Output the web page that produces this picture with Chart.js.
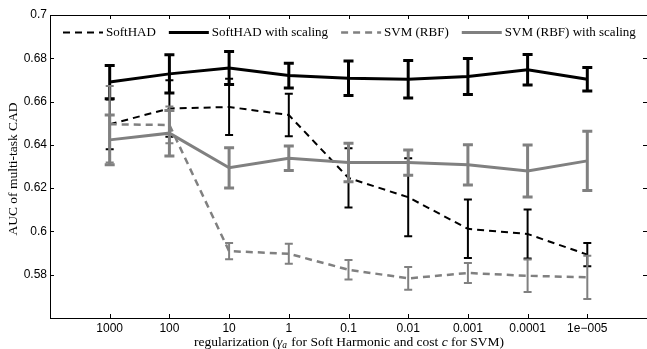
<!DOCTYPE html>
<html><head><meta charset="utf-8">
<script src="https://cdn.jsdelivr.net/npm/chart.js@4.4.0/dist/chart.umd.min.js"></script>
<style>html,body{margin:0;padding:0;background:#fff;}</style>
</head><body>
<canvas id="c" width="647" height="349"></canvas>
<script>
const categories = ['1000','100','10','1','0.1','0.01','0.001','0.0001','1e\u2212005'];
const yTicks = [0.58, 0.6, 0.62, 0.64, 0.66, 0.68, 0.7];

const softhad          = [0.6495, 0.6568, 0.6575, 0.6538, 0.6247, 0.6158, 0.6012, 0.5988, 0.5893];
const softhadErr       = [0.0115, 0.0130, 0.0130, 0.0098, 0.0137, 0.0180, 0.0135, 0.0113, 0.0054];
const softhadScaling   = [0.6690, 0.6728, 0.6755, 0.6720, 0.6708, 0.6703, 0.6716, 0.6747, 0.6703];
const softhadScalingErr= [0.0077, 0.0088, 0.0076, 0.0057, 0.0080, 0.0087, 0.0083, 0.0071, 0.0054];
const svm              = [0.6495, 0.6492, 0.5909, 0.5897, 0.5823, 0.5783, 0.5808, 0.5795, 0.5788];
const svmErr           = [0.0177, 0.0085, 0.0037, 0.0046, 0.0045, 0.0053, 0.0046, 0.0075, 0.0100];
const svmScaling       = [0.6423, 0.6454, 0.6294, 0.6338, 0.6319, 0.6318, 0.6308, 0.6279, 0.6326];
const svmScalingErr    = [0.0115, 0.0105, 0.0093, 0.0057, 0.0089, 0.0058, 0.0093, 0.0120, 0.0137];

// x-axis title pieces: [text, italic, subscript]
const xTitleParts = [
  ['regularization (', false, false], ['\u03B3', true, false], ['a', true, true],
  [' for Soft Harmonic and cost ', false, false], ['c', true, false], [' for SVM)', false, false]
];
const yTitle = 'AUC of multi-task CAD';

const BLACK = '#000000', GREY = '#808080';
const pts = arr => arr.map((v, i) => ({x: i, y: v}));

const datasets = [
  {label: 'SoftHAD', data: pts(softhad), err: softhadErr, borderColor: BLACK, borderWidth: 2, borderDash: [7, 5],
   eb: {w: 2, cap: 8}, order: 4},
  {label: 'SoftHAD with scaling', data: pts(softhadScaling), err: softhadScalingErr, borderColor: BLACK, borderWidth: 3, borderDash: [],
   eb: {w: 3, cap: 10}, order: 3},
  {label: 'SVM (RBF)', data: pts(svm), err: svmErr, borderColor: GREY, borderWidth: 2.5, borderDash: [7, 5],
   eb: {w: 2, cap: 8}, order: 2},
  {label: 'SVM (RBF) with scaling', data: pts(svmScaling), err: svmScalingErr, borderColor: GREY, borderWidth: 3, borderDash: [],
   eb: {w: 3, cap: 10}, order: 1}
].map(d => Object.assign({pointRadius: 0, pointHoverRadius: 0, fill: false, tension: 0, backgroundColor: d.borderColor}, d));

const errorBars = {
  id: 'errorBars',
  afterDatasetDraw(chart, args) {
    const ds = chart.data.datasets[args.index];
    const xs = chart.scales.x, ys = chart.scales.y, ctx = chart.ctx;
    ctx.save();
    ctx.strokeStyle = ds.borderColor;
    ctx.setLineDash([]);
    ctx.lineCap = 'butt';
    ds.data.forEach((p, i) => {
      const e = ds.err[i];
      const x = xs.getPixelForValue(p.x);
      const yt = ys.getPixelForValue(p.y + e), yb = ys.getPixelForValue(p.y - e);
      ctx.lineWidth = ds.eb.w;
      ctx.beginPath(); ctx.moveTo(x, yt); ctx.lineTo(x, yb); ctx.stroke();
      ctx.beginPath();
      ctx.moveTo(x - ds.eb.cap / 2, yt); ctx.lineTo(x + ds.eb.cap / 2, yt);
      ctx.moveTo(x - ds.eb.cap / 2, yb); ctx.lineTo(x + ds.eb.cap / 2, yb);
      ctx.stroke();
    });
    ctx.restore();
  }
};

const frame = {
  id: 'frame',
  beforeDatasetsDraw(chart) {
    const {ctx, chartArea: a} = chart;
    const xs = chart.scales.x, ys = chart.scales.y;
    ctx.save();
    ctx.strokeStyle = '#000'; ctx.lineWidth = 1; ctx.setLineDash([]);
    ctx.beginPath();
    ctx.moveTo(a.left + 0.5, a.bottom + 0.5); ctx.lineTo(a.left + 0.5, a.top + 0.5); ctx.lineTo(a.right, a.top + 0.5);
    ctx.moveTo(a.left, a.bottom + 0.5); ctx.lineTo(a.right, a.bottom + 0.5);
    const tl = 4;
    categories.forEach((c, i) => {
      const x = Math.round(xs.getPixelForValue(i)) + 0.5;
      ctx.moveTo(x, a.top); ctx.lineTo(x, a.top + tl);
      ctx.moveTo(x, a.bottom); ctx.lineTo(x, a.bottom - tl);
    });
    yTicks.forEach(v => {
      const y = Math.round(ys.getPixelForValue(v)) + 0.5;
      ctx.moveTo(a.left, y); ctx.lineTo(a.left + tl, y);
      ctx.moveTo(a.right, y); ctx.lineTo(a.right - tl, y);
    });
    ctx.stroke();
    ctx.restore();
  }
};

const titles = {
  id: 'titles',
  afterDraw(chart) {
    const ctx = chart.ctx, a = chart.chartArea;
    ctx.save();
    ctx.fillStyle = '#000';
    ctx.textBaseline = 'alphabetic';
    const size = 13.5;
    const fontFor = (it, sub) => (it ? 'italic ' : '') + (sub ? size * 0.7 : size) + 'px "Liberation Serif"';
    let total = 0;
    xTitleParts.forEach(([t, it, sub]) => { ctx.font = fontFor(it, sub); total += ctx.measureText(t).width; });
    let x = (a.left + a.right) / 2 - total / 2 - 0;
    const base = 346;
    xTitleParts.forEach(([t, it, sub]) => {
      ctx.font = fontFor(it, sub);
      ctx.fillText(t, x, sub ? base + 2 : base);
      x += ctx.measureText(t).width + (sub ? 1 : 0);
    });
    // y title
    ctx.font = '13.5px "Liberation Serif"';
    ctx.textAlign = 'center';
    ctx.textBaseline = 'middle';
    ctx.translate(13, 169);
    ctx.rotate(-Math.PI / 2);
    ctx.fillText(yTitle, 0, 0);
    ctx.restore();
  }
};

const legendInside = {
  id: 'legendInside',
  afterDraw(chart) {
    const ctx = chart.ctx;
    ctx.save();
    ctx.font = '13px "Liberation Serif"';
    ctx.textBaseline = 'middle';
    ctx.fillStyle = '#000';
    let x = 63; const y = 32.5;
    chart.data.datasets.forEach(ds => {
      ctx.strokeStyle = ds.borderColor;
      ctx.lineWidth = ds.borderWidth;
      ctx.setLineDash(ds.borderDash);
      ctx.beginPath(); ctx.moveTo(x, y); ctx.lineTo(x + 40, y); ctx.stroke();
      ctx.setLineDash([]);
      ctx.fillText(ds.label, x + 43, y + 0.5);
      x += 43 + ctx.measureText(ds.label).width + 13;
    });
    ctx.restore();
  }
};

new Chart(document.getElementById('c'), {
  type: 'line',
  data: {datasets},
  options: {
    responsive: false,
    animation: false,
    events: [],
    layout: {padding: {top: 15, right: 0, left: 0, bottom: 0}},
    plugins: {legend: {display: false}, tooltip: {enabled: false}},
    scales: {
      x: {
        type: 'linear', min: -1, max: 9,
        afterBuildTicks: s => { s.ticks = categories.map((c, i) => ({value: i})); },
        afterFit: s => { s.height = 31; },
        grid: {display: false, drawTicks: false},
        border: {display: false},
        ticks: {
          callback: v => categories[v] !== undefined ? categories[v] : '',
          autoSkip: false, maxRotation: 0, padding: 3, color: '#000',
          font: {family: '"Liberation Sans"', size: 12}
        },
        title: {display: false}
      },
      y: {
        min: 0.56, max: 0.7,
        afterBuildTicks: s => { s.ticks = yTicks.map(v => ({value: v})); },
        afterFit: s => { s.width = 50; },
        grid: {display: false, drawTicks: false},
        border: {display: false},
        ticks: {
          callback: v => String(parseFloat(v.toFixed(2))),
          padding: 3, color: '#000',
          font: {family: '"Liberation Sans"', size: 12}
        },
        title: {display: false}
      }
    }
  },
  plugins: [frame, errorBars, titles, legendInside]
});
</script>
</body></html>
